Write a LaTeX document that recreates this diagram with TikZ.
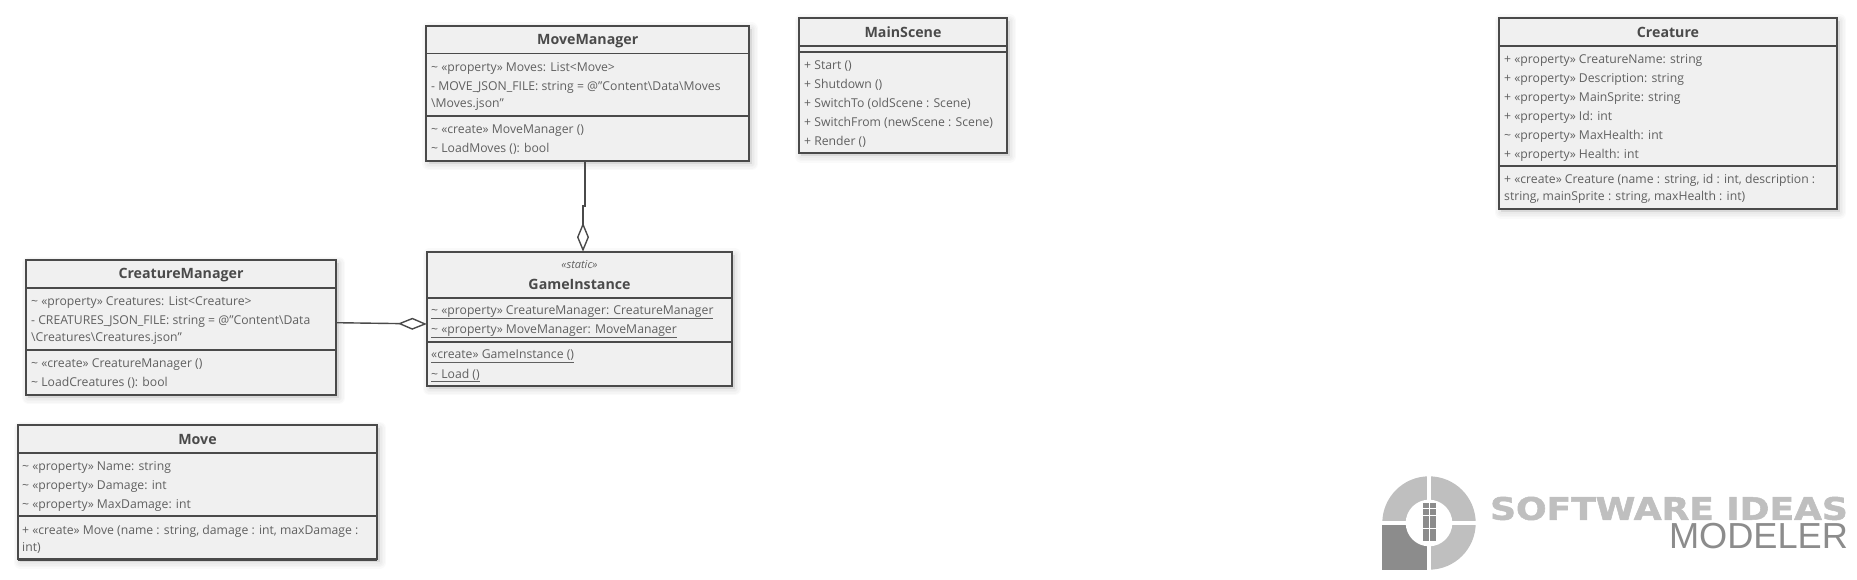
\documentclass[tikz,border=0pt]{standalone}
\usepackage{fontspec}
\setmainfont{Open Sans}
\newfontfamily\logofont[FakeBold=1.6]{DejaVu Sans Bold}
\newfontfamily\modelerfont{Liberation Sans}
\usetikzlibrary{arrows.meta}
\definecolor{classfill}{RGB}{240, 240, 240}
\definecolor{classline}{RGB}{74, 74, 74}
\definecolor{classtext}{RGB}{96, 96, 96}
\definecolor{logolight}{RGB}{191, 191, 191}
\definecolor{logodark}{RGB}{140, 140, 140}
\tikzset{
  softshadow/.style={preaction={draw=black, fill=black, line width=#1pt, opacity=0.02, line join=round, transform canvas={xshift=2.5pt, yshift=-3pt}}},
  classbox/.style={rectangle, anchor=north west, inner sep=0pt, outer sep=0pt, draw=classline, fill=classfill, line width=1.7pt,
    softshadow=13, softshadow=10, softshadow=7, softshadow=4},
  classname/.style={anchor=center, inner sep=0pt, yshift=-1.3pt, text=classline, font=\fontsize{14.2}{17}\selectfont\bfseries},
  stereotype/.style={anchor=center, inner sep=0pt, yshift=-1pt, text=classtext, font=\fontsize{11}{12}\selectfont\itshape},
  member/.style={anchor=west, inner sep=0pt, yshift=-1.7pt, align=left, text=classtext, font=\fontsize{12.2}{17}\selectfont},
  divider/.style={draw=classline, line width=1.7pt},
  aggregation/.style={draw=classline, line width=1.4pt, -{Diamond[open, fill=white, length=29pt, width=12pt, line width=1.4pt]}},
}
\begin{document}
\begin{tikzpicture}[x=1pt, y=1pt]
  \useasboundingbox (0,0) rectangle (1857,-580);
  % class boxes
  \node[classbox, minimum width=322.7pt, minimum height=135pt]   (movemanager)     at ( 426.3, -26.0) {};
  \node[classbox, minimum width=305.4pt, minimum height=134pt]   (gameinstance)    at ( 426.8,-251.7) {};
  \node[classbox, minimum width=310.3pt, minimum height=134.7pt] (creaturemanager) at (  25.9,-260.0) {};
  \node[classbox, minimum width=359.1pt, minimum height=134.3pt] (move)            at (  17.9,-425.0) {};
  \node[classbox, minimum width=208.6pt, minimum height=135.6pt] (mainscene)       at ( 798.7, -17.7) {};
  \node[classbox, minimum width=338.3pt, minimum height=191.6pt] (creature)        at (1498.7, -17.7) {};
  % heavier bottom edges
  \foreach \n in {movemanager,gameinstance,creaturemanager,move,mainscene,creature}
    \draw[divider, line width=2.4pt] (\n.south west) -- (\n.south east);
  % compartments
  \foreach \n/\y in {movemanager/-53.5, movemanager/-115.7, gameinstance/-297.7, gameinstance/-341.7,
                     creaturemanager/-287.7, creaturemanager/-349.7, move/-452.7, move/-516.0,
                     mainscene/-45.7, mainscene/-51.7, creature/-45.7, creature/-165.7}
    \draw[divider] (\n.west |- 0,\y) -- (\n.east |- 0,\y);
  % names
  \node[classname]  (movemanagername)     at (587.7, -39.5) {MoveManager};
  \node[stereotype] (gamestereotype)      at (579.5,-263.3) {«static»};
  \node[classname]  (gameinstancename)    at (579.5,-283.5) {GameInstance};
  \node[classname]  (creaturemanagername) at (181.0,-273.5) {CreatureManager};
  \node[classname]  (movename)            at (197.5,-438.0) {Move};
  \node[classname]  (mainscenename)       at (903.0, -31.0) {MainScene};
  \node[classname]  (creaturename)        at (1668.0,-31.2) {Creature};
  % members
  \foreach \y/\txt [count=\i] in {
      -66.7/{\textasciitilde\ «property» Moves: List<Move>},
      -94.5/{- MOVE\_JSON\_FILE: string = @"Content\textbackslash Data\textbackslash Moves\\\textbackslash Moves.json"},
      -128.7/{\textasciitilde\ «create» MoveManager ()},
      -147.0/{\textasciitilde\ LoadMoves (): bool}}
    \node[member] (movemanagerm\i) at (431,\y) {\txt};
  \foreach \y/\txt [count=\i] in {
      -310.7/{\underline{\textasciitilde\ «property» CreatureManager: CreatureManager}},
      -329.7/{\underline{\textasciitilde\ «property» MoveManager: MoveManager}},
      -354.7/{\underline{«create» GameInstance ()}},
      -373.7/{\underline{\textasciitilde\ Load ()}}}
    \node[member] (gameinstancem\i) at (431,\y) {\txt};
  \foreach \y/\txt [count=\i] in {
      -300.7/{\textasciitilde\ «property» Creatures: List<Creature>},
      -328.5/{- CREATURES\_JSON\_FILE: string = @"Content\textbackslash Data\\\textbackslash Creatures\textbackslash Creatures.json"},
      -362.7/{\textasciitilde\ «create» CreatureManager ()},
      -381.0/{\textasciitilde\ LoadCreatures (): bool}}
    \node[member] (creaturemanagerm\i) at (31,\y) {\txt};
  \foreach \y/\txt [count=\i] in {
      -465.7/{\textasciitilde\ «property» Name: string},
      -484.7/{\textasciitilde\ «property» Damage: int},
      -503.7/{\textasciitilde\ «property» MaxDamage: int},
      -537.5/{+ «create» Move (name : string, damage : int, maxDamage :\\int)}}
    \node[member] (movem\i) at (22,\y) {\txt};
  \foreach \y/\txt [count=\i] in {
      -64.0/{+ Start ()},
      -83.3/{+ Shutdown ()},
      -102.3/{+ SwitchTo (oldScene : Scene)},
      -121.3/{+ SwitchFrom (newScene : Scene)},
      -140.3/{+ Render ()}}
    \node[member] (mainscenem\i) at (804,\y) {\txt};
  \foreach \y/\txt [count=\i] in {
      -58.7/{+ «property» CreatureName: string},
      -77.3/{+ «property» Description: string},
      -96.7/{+ «property» MainSprite: string},
      -115.7/{+ «property» Id: int},
      -134.7/{\textasciitilde\ «property» MaxHealth: int},
      -153.7/{+ «property» Health: int},
      -187.5/{+ «create» Creature (name : string, id : int, description :\\string, mainSprite : string, maxHealth : int)}}
    \node[member] (creaturem\i) at (1504,\y) {\txt};
  % aggregations
  \coordinate (movestart) at (585,-161);
  \coordinate (movebend)  at (585,-206);
  \coordinate (moveend)   at (583,-251.7);
  \coordinate (creaturestart) at (336.2,-322.7);
  \coordinate (creatureend)   at (426.8,-324);
  \draw[aggregation] (movestart) -- (movebend) -- (movebend -| moveend) -- (moveend);
  \draw[aggregation] (creaturestart) -- (creatureend);
  % logo
  \fill[logolight] (1429,-523) circle (46.7);
  \fill[logodark]  (1382,-525) rectangle (1427,-569.7);
  \fill[white]     (1429,-523) circle (23.3);
  \fill[white]     (1426.7,-470) rectangle (1431,-575);
  \fill[white]     (1375,-520.7) rectangle (1480,-525);
  \foreach \c in {0,1}
    \foreach \r in {0,...,5}
      \fill[logodark] (1422.7+7*\c,-502.7-6.55*\r) rectangle ++(6.2,-5.7);
  \node[anchor=center, inner sep=0pt, text=logolight, font=\fontsize{31}{31}\logofont, xscale=1.16] (logoname) at (1669,-508.5) {SOFTWARE IDEAS};
  \node[anchor=center, inner sep=0pt, text=logodark, font=\fontsize{36.2}{37}\modelerfont] (logomodeler) at (1758.5,-536.5) {MODELER};
\end{tikzpicture}
\end{document}
